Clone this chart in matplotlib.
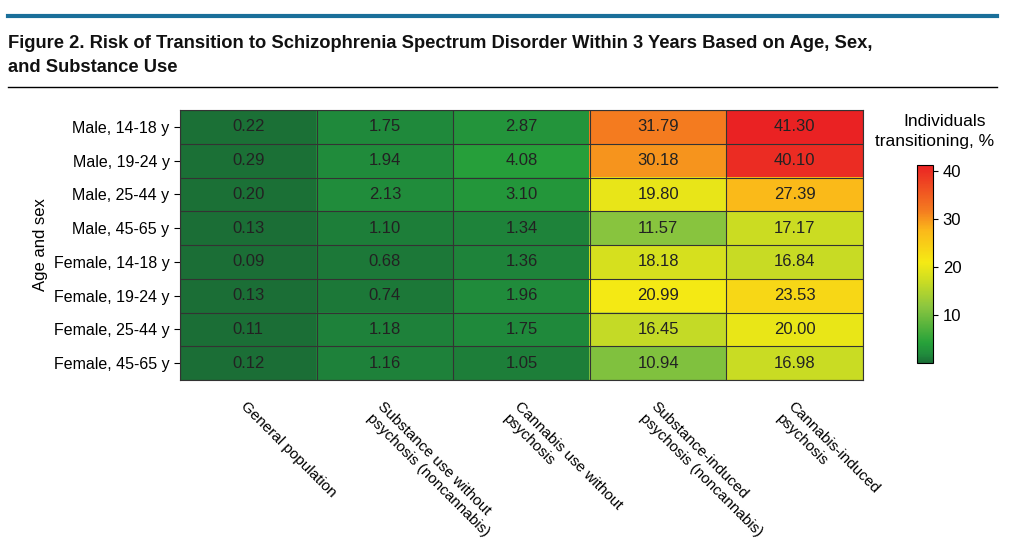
import matplotlib
matplotlib.use("Agg")
import matplotlib.pyplot as plt
import numpy as np
from matplotlib.colors import LinearSegmentedColormap

plt.rcParams["font.family"] = ["Liberation Sans", "DejaVu Sans"]

rows = ["Male, 14-18 y", "Male, 19-24 y", "Male, 25-44 y", "Male, 45-65 y",
        "Female, 14-18 y", "Female, 19-24 y", "Female, 25-44 y", "Female, 45-65 y"]
cols = ["General population", "Substance use without\npsychosis (noncannabis)",
        "Cannabis use without\npsychosis", "Substance-induced\npsychosis (noncannabis)",
        "Cannabis-induced\npsychosis"]
general = [0.22, 0.29, 0.20, 0.13, 0.09, 0.13, 0.11, 0.12]
subst_use = [1.75, 1.94, 2.13, 1.10, 0.68, 0.74, 1.18, 1.16]
cann_use = [2.87, 4.08, 3.10, 1.34, 1.36, 1.96, 1.75, 1.05]
subst_ind = [31.79, 30.18, 19.80, 11.57, 18.18, 20.99, 16.45, 10.94]
cann_ind = [41.30, 40.10, 27.39, 17.17, 16.84, 23.53, 20.00, 16.98]
cbar_ticks = [10, 20, 30, 40]

data = np.array([general, subst_use, cann_use, subst_ind, cann_ind]).T

cmap = LinearSegmentedColormap.from_list("g", [
    (0.0, "#1b6e36"), (0.04, "#208a3c"), (0.1, "#27a23a"), (0.28, "#8cc63f"),
    (0.42, "#d2df20"), (0.5, "#f5ea14"), (0.66, "#fbb81a"), (0.76, "#f47a20"),
    (1.0, "#ea1c24")])

fig = plt.figure(figsize=(10.24, 5.49), dpi=100)
W, H = 1024, 549
fig.add_artist(plt.Line2D([8/W, 997/W], [1-16/H, 1-16/H], color="#1a6f9a", lw=3))
fig.add_artist(plt.Line2D([8/W, 997/W], [1-87/H, 1-87/H], color="black", lw=1))
fig.text(8/W, 1-43/H, "Figure 2. Risk of Transition to Schizophrenia Spectrum Disorder Within 3 Years Based on Age, Sex,",
         fontsize=13.2, va="center", weight="bold", color="#111")
fig.text(8/W, 1-67/H, "and Substance Use", fontsize=13.2, va="center", weight="bold", color="#111")

ax = fig.add_axes([180/W, 1-380/H, 683/W, 270/H])
vmin, vmax = 0, 42
im = ax.imshow(data, cmap=cmap, vmin=vmin, vmax=vmax, aspect="auto")
for i in range(data.shape[0]):
    for j in range(data.shape[1]):
        ax.text(j, i, f"{data[i, j]:.2f}", ha="center", va="center", fontsize=12, color="#222")
ax.set_xticks(np.arange(-0.5, 5, 1), minor=True)
ax.set_yticks(np.arange(-0.5, 8, 1), minor=True)
ax.grid(which="minor", color="#333", lw=0.8)
ax.tick_params(which="minor", length=0)
ax.set_yticks(range(8))
ax.set_yticklabels(rows, fontsize=11.5)
ax.set_xticks(range(5))
ax.set_xticklabels(cols, rotation=-45, ha="left", va="top", rotation_mode="anchor", fontsize=11)
ax.tick_params(axis="x", length=0, pad=14)
ax.tick_params(axis="y", length=4)
ax.set_ylabel("Age and sex", fontsize=12)
for s in ax.spines.values():
    s.set_color("#333")

cax = fig.add_axes([917/W, 1-363/H, 16/W, 198/H])
cb = fig.colorbar(im, cax=cax, ticks=cbar_ticks)
cb.ax.tick_params(labelsize=12)
cax.set_ylim(0, 41.3)
fig.text(945/W, 1-121/H, "Individuals", ha="center", va="center", fontsize=12.5)
fig.text(935/W, 1-141/H, "transitioning, %", ha="center", va="center", fontsize=12.5)

fig.savefig("out.png", dpi=100)
